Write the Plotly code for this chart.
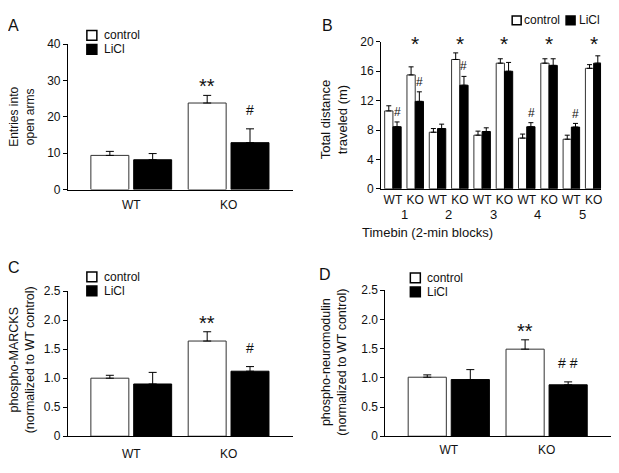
import plotly.graph_objects as go

# ---------------- data ----------------
series = ["control", "LiCl"]
genotypes = ["WT", "KO"]

# Panel A: entries into open arms
a_ctrl = [9.4, 23.8]
a_ctrl_err = [1.1, 2.1]
a_licl = [8.2, 12.9]
a_licl_err = [1.7, 3.8]
a_sig_ctrl = ["", "**"]
a_sig_licl = ["", "#"]

# Panel B: total distance traveled per timebin
bins = ["1", "2", "3", "4", "5"]
b_wt_ctrl = [10.6, 7.7, 7.3, 6.9, 6.75]
b_wt_ctrl_err = [0.7, 0.5, 0.55, 0.55, 0.55]
b_wt_licl = [8.45, 8.2, 7.8, 8.45, 8.4]
b_wt_licl_err = [0.65, 0.6, 0.5, 0.55, 0.5]
b_ko_ctrl = [15.5, 17.6, 17.1, 17.1, 16.4]
b_ko_ctrl_err = [1.1, 0.9, 0.6, 0.6, 0.5]
b_ko_licl = [11.9, 14.1, 16.0, 16.8, 17.1]
b_ko_licl_err = [1.3, 1.2, 1.2, 0.9, 1.0]
b_sig_ko = ["*", "*", "*", "*", "*"]
b_sig_wt_licl = ["#", "", "", "#", "#"]
b_sig_ko_licl = ["#", "#", "", "", ""]

# Panel C: phospho-MARCKS
c_ctrl = [1.0, 1.64]
c_ctrl_err = [0.05, 0.16]
c_licl = [0.90, 1.12]
c_licl_err = [0.20, 0.08]
c_sig_ctrl = ["", "**"]
c_sig_licl = ["", "#"]

# Panel D: phospho-neuromodulin
d_ctrl = [1.01, 1.49]
d_ctrl_err = [0.04, 0.16]
d_licl = [0.97, 0.88]
d_licl_err = [0.17, 0.05]
d_sig_ctrl = ["", "**"]
d_sig_licl = ["", "# #"]

# ---------------- style ----------------
FONT = "Liberation Sans, Arial, sans-serif"
TXT = "#111111"
PAGE_MARGIN = 8          # default body margin of the html page
W, H = 619 - PAGE_MARGIN, 473 - PAGE_MARGIN
OUTLINE = "#333333"
fills = {"control": "white", "LiCl": "black"}

fig = go.Figure()


def px_x(p):
    return (p - PAGE_MARGIN) / W


def px_y(p):
    return 1 - (p - PAGE_MARGIN) / H


def add_pair(xax, yax, xs, ctrl, ctrl_err, licl, licl_err, width, offs, cap):
    for name, vals, errs, off in [("control", ctrl, ctrl_err, offs[0]),
                                  ("LiCl", licl, licl_err, offs[1])]:
        fig.add_trace(go.Bar(
            x=xs, y=vals, name=name, showlegend=False,
            xaxis=xax, yaxis=yax,
            width=width, offset=off,
            marker=dict(color=fills[name],
                        line=dict(color=OUTLINE if name == "control" else "black", width=1)),
            error_y=dict(type="data", symmetric=False, array=errs,
                         arrayminus=[0] * len(errs), color="black",
                         thickness=1, width=cap),
        ))


# --- A ---
add_pair("x", "y", genotypes, a_ctrl, a_ctrl_err, a_licl, a_licl_err,
         0.39, (-0.415, 0.025), 4)
# --- C ---
add_pair("x3", "y3", genotypes, c_ctrl, c_ctrl_err, c_licl, c_licl_err,
         0.39, (-0.415, 0.025), 4)
# --- D ---
add_pair("x4", "y4", genotypes, d_ctrl, d_ctrl_err, d_licl, d_licl_err,
         0.39, (-0.415, 0.025), 4)

# --- B ---
b_cats = []
b_ctrl, b_ctrl_err, b_licl, b_licl_err = [], [], [], []
for i, b in enumerate(bins):
    for g in genotypes:
        b_cats.append(f"{b}-{g}")
    b_ctrl += [b_wt_ctrl[i], b_ko_ctrl[i]]
    b_ctrl_err += [b_wt_ctrl_err[i], b_ko_ctrl_err[i]]
    b_licl += [b_wt_licl[i], b_ko_licl[i]]
    b_licl_err += [b_wt_licl_err[i], b_ko_licl_err[i]]
add_pair("x2", "y2", b_cats, b_ctrl, b_ctrl_err, b_licl, b_licl_err,
         0.37, (-0.37, 0.0), 2.5)

annotations = []


def sig(xref, yref, x, ytop, text, size, shift):
    if text:
        annotations.append(dict(x=x, y=ytop, xref=xref, yref=yref, text=text,
                                showarrow=False, yanchor="middle", yshift=shift,
                                font=dict(family=FONT, size=size, color=TXT)))


for xref, yref, ctrl, cerr, licl, lerr, sc, sl in [
        ("x", "y", a_ctrl, a_ctrl_err, a_licl, a_licl_err, a_sig_ctrl, a_sig_licl),
        ("x3", "y3", c_ctrl, c_ctrl_err, c_licl, c_licl_err, c_sig_ctrl, c_sig_licl),
        ("x4", "y4", d_ctrl, d_ctrl_err, d_licl, d_licl_err, d_sig_ctrl, d_sig_licl)]:
    for i in range(2):
        sig(xref, yref, i - 0.22, ctrl[i] + cerr[i], sc[i], 20, 9)
        sig(xref, yref, i + 0.22, licl[i] + lerr[i], sl[i], 14, 19)

for i in range(len(bins)):
    wt_i, ko_i = 2 * i, 2 * i + 1
    top = max(b_ko_ctrl[i] + b_ko_ctrl_err[i], b_ko_licl[i] + b_ko_licl_err[i], 18.5)
    sig("x2", "y2", ko_i, top, b_sig_ko[i], 21, 9)
    sig("x2", "y2", wt_i + 0.2, b_wt_licl[i] + b_wt_licl_err[i], b_sig_wt_licl[i], 12, 9.5)
    sig("x2", "y2", ko_i + 0.185, b_ko_licl[i] + b_ko_licl_err[i], b_sig_ko_licl[i], 12, 10)
    annotations.append(dict(x=wt_i + 0.5, y=px_y(214), xref="x2", yref="paper",
                            text=bins[i], showarrow=False, yanchor="middle",
                            font=dict(family=FONT, size=13, color=TXT)))

annotations.append(dict(x=px_x(496), y=px_y(232.5), xref="paper", yref="paper",
                        text="Timebin (2-min blocks)", showarrow=False, yanchor="middle",
                        font=dict(family=FONT, size=13, color=TXT)))

# panel letters
for letter, x, y in [("A", 14, 19), ("B", 328, 19), ("C", 14, 268), ("D", 326, 276)]:
    annotations.append(dict(x=px_x(x), y=px_y(y), xref="paper", yref="paper",
                            text=letter, showarrow=False, xanchor="center", yanchor="middle",
                            font=dict(family=FONT, size=16, color=TXT)))

# y titles
for text, x, y, size in [("Entries into<br>open arms", 22, 113, 12),
                         ("Total distance<br>traveled (m)", 334, 115, 13),
                         ("phospho-MARCKS<br>(normalized to WT control)", 22, 363, 12.5),
                         ("phospho-neuromodulin<br>(normalized to WT control)", 335, 366, 12.5)]:
    annotations.append(dict(x=px_x(x), y=px_y(y), xref="paper", yref="paper",
                            text=text, showarrow=False, textangle=-90,
                            xanchor="center", yanchor="middle",
                            font=dict(family=FONT, size=size, color=TXT)))

# legends (vertical for A, C, D; horizontal for B)
shapes = []


def legend_item(x0, yc, name, size=10, gap=5):
    shapes.append(dict(type="rect", xref="paper", yref="paper",
                       x0=px_x(x0), x1=px_x(x0 + size),
                       y0=px_y(yc + size / 2), y1=px_y(yc - size / 2),
                       fillcolor=fills[name], line=dict(color="black", width=1.5)))
    annotations.append(dict(x=px_x(x0 + size + gap), y=px_y(yc), xref="paper", yref="paper",
                            text=name, showarrow=False, xanchor="left", yanchor="middle",
                            font=dict(family=FONT, size=12, color=TXT)))


for lx, ly in [(87, 29), (87, 278), (411, 279)]:
    legend_item(lx, ly, series[0])
    legend_item(lx, ly + 14.5, series[1])
legend_item(513, 13.5, series[0], size=9, gap=1)
legend_item(567, 13.5, series[1], size=9, gap=2)

axis_common = dict(showline=True, linecolor="black", linewidth=1, showgrid=False,
                   zeroline=False, tickfont=dict(family=FONT, size=12, color=TXT))
xcommon = dict(axis_common, ticks="", fixedrange=True)
ycommon = dict(axis_common, ticks="outside", ticklen=4, tickcolor="black", tickwidth=1)

frac_vals = [0, 0.5, 1.0, 1.5, 2.0, 2.5]
frac_text = ["0", "0.5", "1.0", "1.5", "2.0", "2.5"]

fig.update_layout(
    width=W, height=H, margin=dict(l=0, r=0, t=0, b=0),
    paper_bgcolor="white", plot_bgcolor="white",
    barmode="overlay", showlegend=False,
    font=dict(family=FONT, color=TXT),
    xaxis=dict(xcommon, domain=[px_x(68), px_x(293)], anchor="y",
               range=[-0.651, 1.657], ticklabelstandoff=4),
    yaxis=dict(ycommon, domain=[px_y(188), px_y(38)], anchor="x",
               range=[0, 40], tickvals=[0, 10, 20, 30, 40]),
    xaxis2=dict(xcommon, domain=[px_x(381.7), px_x(602)], anchor="y2",
                range=[-0.53, 9.33], tickvals=b_cats,
                ticktext=[c.split("-")[1] for c in b_cats], ticklabelstandoff=0),
    yaxis2=dict(ycommon, domain=[px_y(187.2), px_y(35.7)], anchor="x2",
                range=[0, 20], tickvals=[0, 4, 8, 12, 16, 20]),
    xaxis3=dict(xcommon, domain=[px_x(68), px_x(293)], anchor="y3",
                range=[-0.651, 1.657], ticklabelstandoff=6),
    yaxis3=dict(ycommon, domain=[px_y(442.3), px_y(292.7)], anchor="x3",
                range=[0, 2.5], tickvals=frac_vals, ticktext=frac_text),
    xaxis4=dict(xcommon, domain=[px_x(386), px_x(612)], anchor="y4",
                range=[-0.648, 1.658], ticklabelstandoff=2),
    yaxis4=dict(ycommon, domain=[px_y(442.3), px_y(291.7)], anchor="x4",
                range=[0, 2.5], tickvals=frac_vals, ticktext=frac_text),
    annotations=annotations, shapes=shapes,
)

fig.write_html("out.html")
